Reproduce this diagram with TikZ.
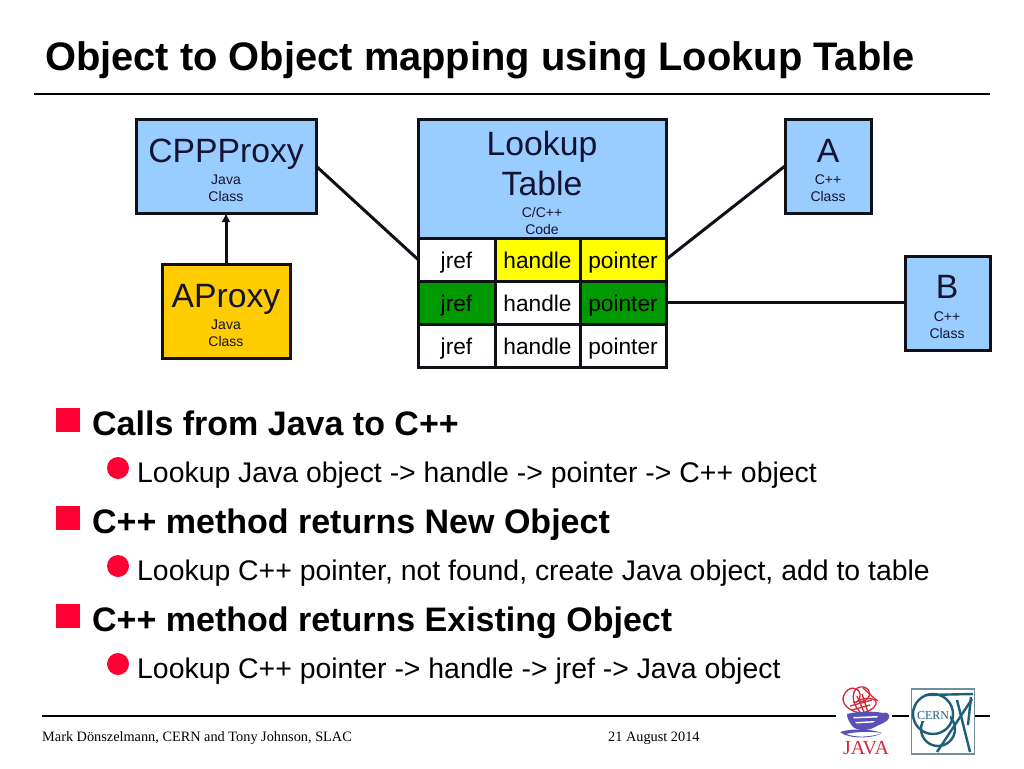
\documentclass[tikz,border=0pt]{standalone}
\usepackage{fontspec}
\usetikzlibrary{arrows.meta}
\setmainfont{Liberation Sans}
\newfontfamily\serifface{Liberation Serif}
\definecolor{boxblue}{HTML}{99CCFF}
\definecolor{boxgold}{HTML}{FFCC00}
\definecolor{cellyellow}{HTML}{FFFF00}
\definecolor{cellgreen}{HTML}{009900}
\definecolor{bulletred}{HTML}{FF0033}
\definecolor{inkline}{HTML}{101018}
\definecolor{smallink}{HTML}{141432}
\definecolor{javared}{HTML}{D8283C}
\definecolor{javablue}{HTML}{5A50B8}
\definecolor{cernteal}{HTML}{1F5F78}
\definecolor{cernframe}{HTML}{6F8FA0}
\newcommand{\fs}[1]{\fontsize{#1}{#1}\selectfont}
\tikzset{
  x=1pt,y=-1pt,
  boxbase/.style={draw=inkline,line width=3pt,inner sep=0pt,outer sep=0pt},
  conn/.style={draw=inkline,line width=3pt},
  cellbox/.style={boxbase,fill=white,font=\fs{22.7},text=black},
  bigt/.style={font=\fs{33.7},text=smallink,inner sep=0pt,anchor=base},
  smallt/.style={font=\fs{14},text=smallink,inner sep=0pt,anchor=base},
  headt/.style={font=\bfseries\fs{34},text=black,inner sep=0pt,anchor=base west},
  subt/.style={font=\fs{28.4},text=black,inner sep=0pt,anchor=base west},
  foott/.style={font=\serifface\fs{14.3},text=black,inner sep=0pt,anchor=base west},
  rulel/.style={draw=black,line width=1.5pt},
  sqbul/.style={fill=bulletred,draw=none,minimum size=24pt,inner sep=0pt},
  rdbul/.style={circle,fill=bulletred,draw=none,minimum size=22pt,inner sep=0pt},
}
\newcommand{\boxat}[6]{\node[boxbase,fill=#6,minimum width=#4 pt-#2 pt,minimum height=#5 pt-#3 pt,anchor=north west] (#1) at (#2,#3) {};}
\newcommand{\tcell}[7]{\node[cellbox,fill=#6,minimum width=#4 pt-#2 pt,minimum height=#5 pt-#3 pt,anchor=north west,text height=19pt,text depth=2pt] (#1) at (#2,#3) {#7};}
\begin{document}
\begin{tikzpicture}
\useasboundingbox (0,0) rectangle (1024,768);
\fill[white] (0,0) rectangle (1024,768);
% title
\node[font=\bfseries\fs{39.85},inner sep=0pt,anchor=base west] (title) at (45,70.5) {Object to Object mapping using Lookup Table};
\coordinate (ruleL) at (34,94); \coordinate (ruleR) at (990,94);
\draw[rulel] (ruleL) -- (ruleR);
% boxes
\boxat{cpp}{136}{119}{316}{213}{boxblue}
\boxat{aprox}{162}{264}{290}{358}{boxgold}
\boxat{lookup}{418}{119}{666}{238}{boxblue}
\boxat{classA}{785}{119}{871}{213}{boxblue}
\boxat{classB}{905}{256}{990}{350}{boxblue}
\node[bigt] (t1) at (226,162) {CPPProxy};
\node[smallt] (t2) at (226,184) {Java};
\node[smallt] (t3) at (226,201) {Class};
\node[bigt] (t4) at (226,307) {AProxy};
\node[smallt] (t5) at (226,329) {Java};
\node[smallt] (t6) at (226,346) {Class};
\node[bigt] (t7) at (542,155) {Lookup};
\node[bigt] (t8) at (542,195) {Table};
\node[smallt] (t9) at (542,217) {C/C++};
\node[smallt] (t10) at (542,234) {Code};
\node[bigt] (t11) at (828,162) {A};
\node[smallt] (t12) at (828,184) {C++};
\node[smallt] (t13) at (828,201) {Class};
\node[bigt] (t14) at (947,298) {B};
\node[smallt] (t15) at (947,321) {C++};
\node[smallt] (t16) at (947,338) {Class};
% table
\tcell{j1}{418}{238}{495}{281}{white}{jref}
\tcell{h1}{495}{238}{580}{281}{cellyellow}{handle}
\tcell{p1}{580}{238}{666}{281}{cellyellow}{pointer}
\tcell{j2}{418}{281}{495}{324}{cellgreen}{jref}
\tcell{h2}{495}{281}{580}{324}{white}{handle}
\tcell{p2}{580}{281}{666}{324}{cellgreen}{pointer}
\tcell{j3}{418}{324}{495}{367}{white}{jref}
\tcell{h3}{495}{324}{580}{367}{white}{handle}
\tcell{p3}{580}{324}{666}{367}{white}{pointer}
% connectors
\draw[conn] (cpp.east) -- (j1.west);
\draw[conn] (p1.east) -- (classA.west);
\draw[conn] (p2.east) -- (p2.east -| classB.west);
\draw[conn,-{Latex[length=9pt,width=9pt]}] (aprox.north) -- (cpp.south);
% bullets
\node[sqbul] (b1) at (68,420) {};
\node[sqbul] (b2) at (68,518) {};
\node[sqbul] (b3) at (68,616) {};
\node[rdbul] (c1) at (118,468) {};
\node[rdbul] (c2) at (118,566) {};
\node[rdbul] (c3) at (118,664) {};
\node[headt] (h-1) at (92,435.5) {Calls from Java to C++};
\node[subt] (s-1) at (137,482) {Lookup Java object -> handle -> pointer -> C++ object};
\node[headt] (h-2) at (92,533.5) {C++ method returns New Object};
\node[subt] (s-2) at (137,580) {Lookup C++ pointer, not found, create Java object, add to table};
\node[headt] (h-3) at (92,631.5) {C++ method returns Existing Object};
\node[subt] (s-3) at (137,678) {Lookup C++ pointer -> handle -> jref -> Java object};
% footer
\draw[rulel] (42,716) -- (836,716);
\draw[rulel] (892,716) -- (909,716);
\draw[rulel] (974,716) -- (990,716);
\node[foott] (f1) at (42,741) {Mark Dönszelmann, CERN and Tony Johnson, SLAC};
\node[foott] (f2) at (608,741) {21 August 2014};
% Java logo
\begin{scope}[line width=1.3pt]
\draw[javared] (862,713) .. controls (848,712) and (840,702) .. (844,695) .. controls (848,686) and (858,686) .. (860,694) .. controls (861,700) and (856,704) .. (853,702);
\draw[javared] (860,712) .. controls (850,702) and (852,688) .. (860,687) .. controls (868,686) and (872,692) .. (868,698) .. controls (865,702) and (860,702) .. (858,700);
\draw[javared] (856,702) .. controls (864,696) and (878,698) .. (876,704) .. controls (874,710) and (866,712) .. (860,714);
\draw[javared] (863,688) .. controls (868,692) and (872,697) .. (878,701);
\draw[javared] (850,706) -- (872,700) (852,710) -- (870,705) (857,696) -- (864,712) (862,694) -- (868,712);
\end{scope}
\fill[javablue] (847,714) .. controls (858,711) and (874,711) .. (883,713) .. controls (890,711) and (892,718) .. (885,722) .. controls (882,724) and (878,725) .. (875,727) .. controls (868,731) and (858,731) .. (853,727) .. controls (850,723) and (847,719) .. (847,714) -- cycle;
\fill[white] (853,717) -- (878,716) -- (877,717.5) -- (854,718.5) -- cycle (855,722) -- (875,721) -- (873,722.5) -- (857,723.5) -- cycle;
\fill[javablue] (840,732) .. controls (852,728) and (872,729) .. (882,733) .. controls (872,731) and (852,732) .. (846,734) .. controls (856,738) and (872,737) .. (882,733) .. controls (872,739) and (848,739) .. (840,732) -- cycle;
\node[font=\serifface\fs{20},text=javared,inner sep=0pt,anchor=base] (java) at (866,754) {JAVA};
% CERN logo
\node[draw=cernframe,fill=white,line width=1.5pt,minimum width=63pt,minimum height=65pt,inner sep=0pt,anchor=north west] (cern) at (910.5,688) {};
\begin{scope}[line width=2.4pt]
\clip (911,689) rectangle (973.5,752.5);
\draw[cernteal] (933,714) circle (20);
\draw[cernteal] (938,729) circle (17);
\draw[cernteal] (925,695) -- (973,694);
\draw[cernteal] (937,752) -- (972,699);
\draw[cernteal] (957,700) -- (970,752);
\draw[cernteal] (971,697) -- (968,725);
\end{scope}
\node[fill=white,inner sep=0.5pt,font=\serifface\fs{12},text=cernteal] (cernt) at (933,716) {CERN};
\end{tikzpicture}
\end{document}
